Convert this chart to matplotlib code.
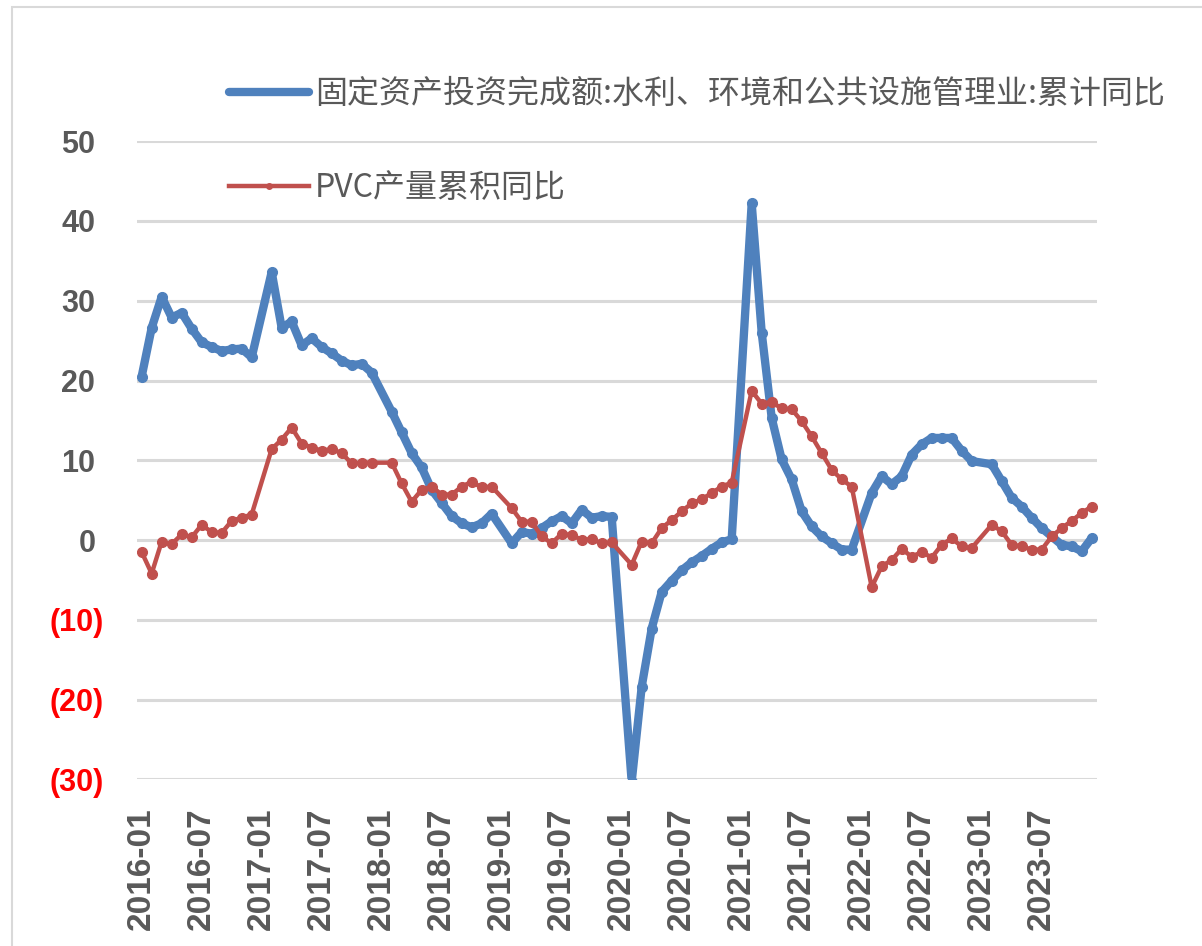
import numpy as np
import matplotlib
matplotlib.use('Agg')
import matplotlib.pyplot as plt
import matplotlib.transforms as mtransforms
from matplotlib.patches import Rectangle

# monthly categories 2016-01 .. 2023-12, January values are not published (None)
months = ['%d-%02d' % (y, m) for y in range(2016, 2024) for m in range(1, 13)]

fai_yoy = [20.5, 26.6, 30.5, 27.9, 28.5, 26.5, 24.8, 24.2, 23.7, 23.9, 24.0, 22.9,
           None, 33.6, 26.6, 27.4, 24.4, 25.3, 24.2, 23.4, 22.5, 21.9, 22.1, 21.0,
           None, 16.1, 13.5, 10.9, 9.1, 6.3, 4.65, 3.0, 2.1, 1.6, 2.1, 3.3,
           None, -0.4, 1.0, 0.8, 1.5, 2.35, 3.0, 2.1, 3.8, 2.8, 3.0, 2.9,
           None, -30.3, -18.4, -11.1, -6.5, -5.1, -3.8, -2.8, -2.0, -1.1, -0.3, 0.1,
           None, 42.2, 26.0, 15.3, 10.1, 7.6, 3.6, 1.7, 0.45, -0.4, -1.2, -1.2,
           None, 5.9, 8.0, 7.0, 8.0, 10.7, 12.0, 12.8, 12.8, 12.8, 11.2, 9.9,
           None, 9.5, 7.4, 5.3, 4.2, 2.8, 1.5, 0.45, -0.6, -0.8, -1.4, 0.25]

pvc_yoy = [-1.5, -4.2, -0.2, -0.5, 0.7, 0.35, 1.9, 1.0, 0.9, 2.4, 2.8, 3.2,
           None, 11.4, 12.6, 14.1, 12.1, 11.6, 11.2, 11.4, 10.9, 9.6, 9.7, 9.7,
           None, 9.7, 7.1, 4.8, 6.3, 6.7, 5.7, 5.7, 6.7, 7.3, 6.6, 6.7,
           None, 4.0, 2.3, 2.3, 0.45, -0.4, 0.8, 0.6, 0.05, 0.1, -0.4, -0.3,
           None, -3.1, -0.2, -0.4, 1.5, 2.5, 3.6, 4.6, 5.1, 5.9, 6.7, 7.2,
           None, 18.7, 17.1, 17.3, 16.5, 16.4, 14.9, 13.0, 10.9, 8.8, 7.6, 6.7,
           None, -5.9, -3.3, -2.5, -1.1, -2.1, -1.5, -2.2, -0.6, 0.2, -0.8, -1.0,
           None, 1.9, 1.1, -0.6, -0.8, -1.2, -1.2, 0.45, 1.5, 2.4, 3.4, 4.2]

label_fai = '固定资产投资完成额:水利、环境和公共设施管理业:累计同比'
label_pvc = 'PVC产量累积同比'

x_tick_labels = months[::6]
y_ticks = [50, 40, 30, 20, 10, 0, -10, -20, -30]

GRAY = '#595959'
plt.rcParams['font.family'] = ['Liberation Sans', 'Noto Sans CJK SC', 'DejaVu Sans']


def gapless(vals):
    # excel style: skip missing months and connect the neighbours
    idx = np.array([i for i, v in enumerate(vals) if v is not None])
    return idx, np.array([vals[i] for i in idx], dtype=float)


fig = plt.figure(figsize=(12.02, 9.46), dpi=100)
ax = fig.add_axes([0.1137, 0.1762, 0.7987, 0.6745])

# chart frame
fig.patches.append(Rectangle((12 / 1202, -0.1), 1.2, 0.1 + 939 / 946,
                             transform=fig.transFigure, fill=False,
                             ec='#D9D9D9', lw=1.5))

for v in y_ticks:
    ax.axhline(v, color='#D9D9D9', lw=2.2, zorder=0)

x1, y1 = gapless(fai_yoy)
x2, y2 = gapless(pvc_yoy)
ax.plot(x1, y1, color='#4F81BD', lw=6, marker='o', ms=7,
        solid_joinstyle='round', solid_capstyle='round', label=label_fai, zorder=3)
ax.plot(x2, y2, color='#C0504D', lw=3.2, marker='o', ms=7,
        solid_joinstyle='round', label=label_pvc, zorder=4)

ax.set_xlim(-0.5, len(months) - 0.5)
ax.set_ylim(-30, 50)
for s in ax.spines.values():
    s.set_visible(False)

ax.set_xticks(range(0, len(months), 6))
ax.set_xticklabels(x_tick_labels, rotation=90, fontsize=24, fontweight='bold',
                   color=GRAY, va='top')
ax.tick_params(axis='x', length=0, pad=20)

ax.set_yticks(y_ticks)
ax.set_yticklabels([('(%d)' % abs(v)) if v < 0 else str(v) for v in y_ticks],
                   fontsize=22, fontweight='bold')
ax.tick_params(axis='y', length=0, pad=24)
shift = mtransforms.ScaledTranslation(-8 / 100, 0, fig.dpi_scale_trans)
for lab, v in zip(ax.get_yticklabels(), y_ticks):
    if v < 0:
        lab.set_color('#FF0000')
    else:
        lab.set_color(GRAY)
        lab.set_transform(lab.get_transform() + shift)

leg = ax.legend(loc='upper left', bbox_to_anchor=(229 / 1202, 1 - 78 / 946),
                bbox_transform=fig.transFigure, frameon=False, numpoints=1,
                prop={'family': ['Noto Sans CJK SC', 'DejaVu Sans'], 'size': 23},
                handlelength=2.5, handletextpad=0.2, labelspacing=1.95,
                borderpad=0, borderaxespad=0)
for t in leg.get_texts():
    t.set_color(GRAY)
for h in leg.get_lines():
    h.set_markersize(4)

fig.savefig('out.png', dpi=100)
